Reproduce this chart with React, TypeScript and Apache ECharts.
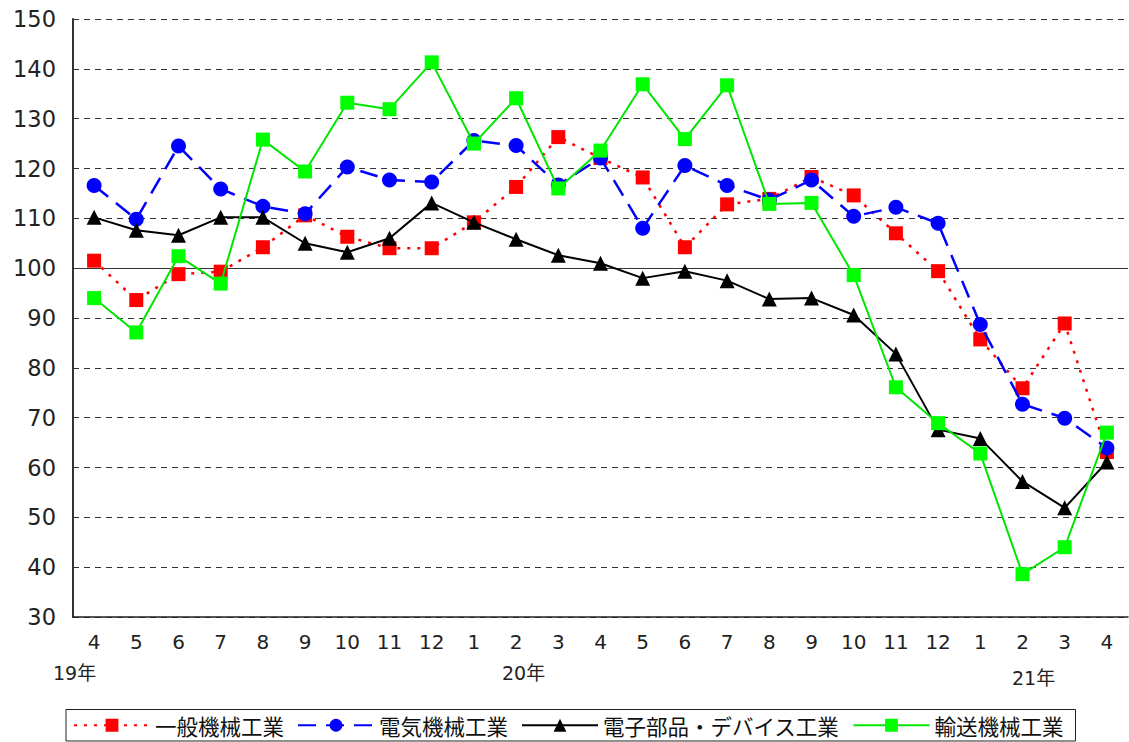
import React, { useEffect, useRef } from "react";
import * as echarts from "echarts";

const months = ["4","5","6","7","8","9","10","11","12","1","2","3","4","5","6","7","8","9","10","11","12","1","2","3","4"];
const yearLabels = ["19年", "20年", "21年"];
const seriesNames = ["一般機械工業", "電気機械工業", "電子部品・デバイス工業", "輸送機械工業"];

const general = [101.5, 93.6, 98.8, 99.3, 104.2, 110.6, 106.3, 104.0, 104.0, 109.2, 116.3, 126.3, 122.1, 118.2, 104.2, 112.8, 113.9, 118.3, 114.6, 107.0, 99.4, 85.7, 75.9, 88.9, 63.1];
const electric = [116.6, 109.8, 124.5, 115.9, 112.4, 110.9, 120.3, 117.7, 117.3, 125.6, 124.6, 116.7, 122.1, 108.0, 120.6, 116.6, 113.7, 117.7, 110.4, 112.2, 109.0, 88.7, 72.7, 69.9, 63.9];
const electronic = [110.2, 107.6, 106.6, 110.2, 110.2, 105.0, 103.2, 106.0, 113.1, 109.2, 105.8, 102.6, 101.0, 98.0, 99.4, 97.5, 93.8, 94.0, 90.6, 82.8, 67.6, 65.8, 57.2, 51.9, 61.1];
const transport = [94.0, 87.1, 102.4, 96.9, 125.8, 119.4, 133.2, 131.9, 141.3, 125.0, 134.1, 116.0, 123.6, 136.9, 125.9, 136.7, 112.9, 113.1, 98.6, 76.1, 68.9, 62.8, 38.6, 44.0, 67.0];

const NUM_FONT = "'DejaVu Sans', 'Noto Sans CJK JP', sans-serif";
const JP_FONT = "'Noto Sans CJK JP', 'Noto Sans', sans-serif";

export default function App() {
  const ref = useRef<HTMLDivElement>(null);
  useEffect(() => {
    if (!ref.current) return;
    const chart = echarts.init(ref.current, null, { renderer: "svg" });
    chart.setOption({
      animation: false,
      backgroundColor: "#ffffff",
      textStyle: { fontFamily: JP_FONT },
      grid: { left: 73, right: 1, top: 19, bottom: 125, containLabel: false },
      xAxis: {
        type: "category",
        data: months,
        boundaryGap: true,
        axisLine: { show: true, lineStyle: { color: "#222", width: 1.5 } },
        axisTick: { show: false },
        axisLabel: { color: "#222", fontSize: 20, margin: 15, fontFamily: NUM_FONT, interval: 0 },
        splitLine: { show: false },
      },
      yAxis: {
        type: "value",
        min: 30,
        max: 150,
        interval: 10,
        axisLine: { show: true, lineStyle: { color: "#333", width: 2 } },
        axisTick: { show: false },
        axisLabel: { color: "#222", fontSize: 22.5, margin: 17, fontFamily: NUM_FONT },
        splitLine: { show: true, lineStyle: { color: "#333", width: 1, type: [6, 5] } },
      },
      legend: {
        bottom: 1,
        left: 66,
        orient: "horizontal",
        borderColor: "#222",
        borderWidth: 1,
        padding: [5, 12, 5, 7],
        itemWidth: 76,
        itemHeight: 16,
        itemGap: 13,
        textStyle: { fontSize: 21.5, color: "#111", fontFamily: JP_FONT },
        data: seriesNames,
      },
      graphic: [
        { type: "text", left: 53, top: 663, style: { text: yearLabels[0], fontSize: 19, fill: "#222", fontFamily: NUM_FONT } },
        { type: "text", left: 502, top: 663, style: { text: yearLabels[1], fontSize: 19, fill: "#222", fontFamily: NUM_FONT } },
        { type: "text", left: 1012, top: 668, style: { text: yearLabels[2], fontSize: 19, fill: "#222", fontFamily: NUM_FONT } },
      ],
      series: [
        {
          name: seriesNames[0],
          type: "line",
          data: general,
          symbol: "rect",
          symbolSize: 14,
          itemStyle: { color: "#ff0000" },
          lineStyle: { color: "#ff0000", width: 2.5, type: [3, 7] },
          markLine: {
            silent: true,
            symbol: "none",
            label: { show: false },
            lineStyle: { color: "#333", width: 1.2, type: "solid" },
            data: [{ yAxis: 100 }],
            z: 1,
          },
          z: 3,
        },
        {
          name: seriesNames[1],
          type: "line",
          data: electric,
          symbol: "circle",
          symbolSize: 15,
          itemStyle: { color: "#0000ff" },
          lineStyle: { color: "#0000ff", width: 2.5, type: [18, 10] },
          z: 4,
        },
        {
          name: seriesNames[2],
          type: "line",
          data: electronic,
          symbol: "triangle",
          symbolSize: 15,
          itemStyle: { color: "#000000" },
          lineStyle: { color: "#000000", width: 2, type: "solid" },
          z: 5,
        },
        {
          name: seriesNames[3],
          type: "line",
          data: transport,
          symbol: "rect",
          symbolSize: 14,
          itemStyle: { color: "#00ff00" },
          lineStyle: { color: "#00e600", width: 2, type: "solid" },
          z: 6,
        },
      ],
    });
    return () => chart.dispose();
  }, []);
  return <div ref={ref} style={{ position: "absolute", left: 0, top: 0, width: 1129, height: 742 }} />;
}
